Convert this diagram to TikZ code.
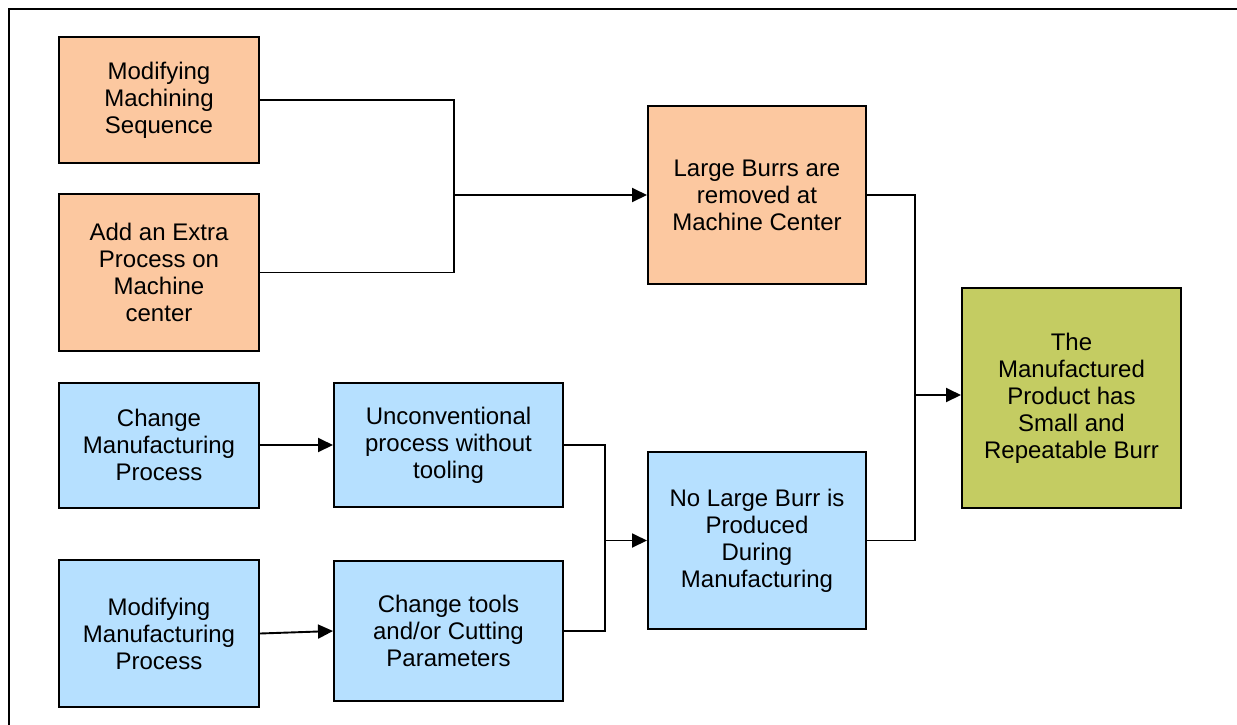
\documentclass[tikz,border=0pt]{standalone}
\usepackage{fontspec}
\setmainfont{Liberation Sans}
\usetikzlibrary{arrows.meta}
\definecolor{orangefill}{RGB}{252,200,160}
\definecolor{bluefill}{RGB}{182,224,255}
\definecolor{greenfill}{RGB}{196,204,98}
\begin{document}
\begin{tikzpicture}[x=1pt,y=-1pt,
  box/.style={draw=black,line width=2pt,align=center,inner sep=0pt,
    font=\fontsize{24}{27}\selectfont},
  orangebox/.style={box,fill=orangefill},
  bluebox/.style={box,fill=bluefill},
  greenbox/.style={box,fill=greenfill},
  conn/.style={line width=1.9pt,draw=black},
  arr/.style={conn,-{Triangle[length=15pt,width=14pt]}}]
\useasboundingbox (0,0) rectangle (1237,724);
\draw[line width=2.6pt] (9,730) -- (9,9) -- (1245,9);

\node[orangebox,minimum width=200pt,minimum height=126pt] (A) at (159,100) {Modifying\\Machining\\Sequence};
\node[orangebox,minimum width=200pt,minimum height=157pt] (B) at (159,272.5) {Add an Extra\\Process on\\Machine\\center};
\node[bluebox,minimum width=200pt,minimum height=125pt] (C) at (159,445) {Change\\Manufacturing\\Process};
\node[bluebox,minimum width=200pt,minimum height=147pt] (D) at (159,633.5) {Modifying\\Manufacturing\\Process};
\node[bluebox,minimum width=229pt,minimum height=124pt] (E) at (448.5,445) {Unconventional\\process without\\tooling};
\node[bluebox,minimum width=229pt,minimum height=140pt] (F) at (448.5,631) {Change tools\\and/or Cutting\\Parameters};
\node[orangebox,minimum width=218pt,minimum height=178pt] (H) at (757,195) {Large Burrs are\\removed at\\Machine Center};
\node[bluebox,minimum width=218pt,minimum height=177pt] (G) at (757,540.5) {No Large Burr is\\Produced\\During\\Manufacturing};
\node[greenbox,minimum width=219pt,minimum height=220pt] (I) at (1071.5,398) {The\\Manufactured\\Product has\\Small and\\Repeatable Burr};

\coordinate (j1) at (454,195);
\coordinate (j2) at (605,540.5);
\coordinate (j3) at (915,395);

\draw[conn] (A.east) -| (j1);
\draw[conn] (B.east) -| (j1);
\draw[arr] (j1) -- (H.west);

\draw[arr] (C.east) -- (E.west);
\draw[arr] (D.east) -- (F.west);
\draw[conn] (E.east) -| (j2);
\draw[conn] (F.east) -| (j2);
\draw[arr] (j2) -- (G.west);

\draw[conn] (H.east) -| (j3);
\draw[conn] (G.east) -| (j3);
\draw[arr] (j3) -- (j3 -| I.west);
\end{tikzpicture}
\end{document}
